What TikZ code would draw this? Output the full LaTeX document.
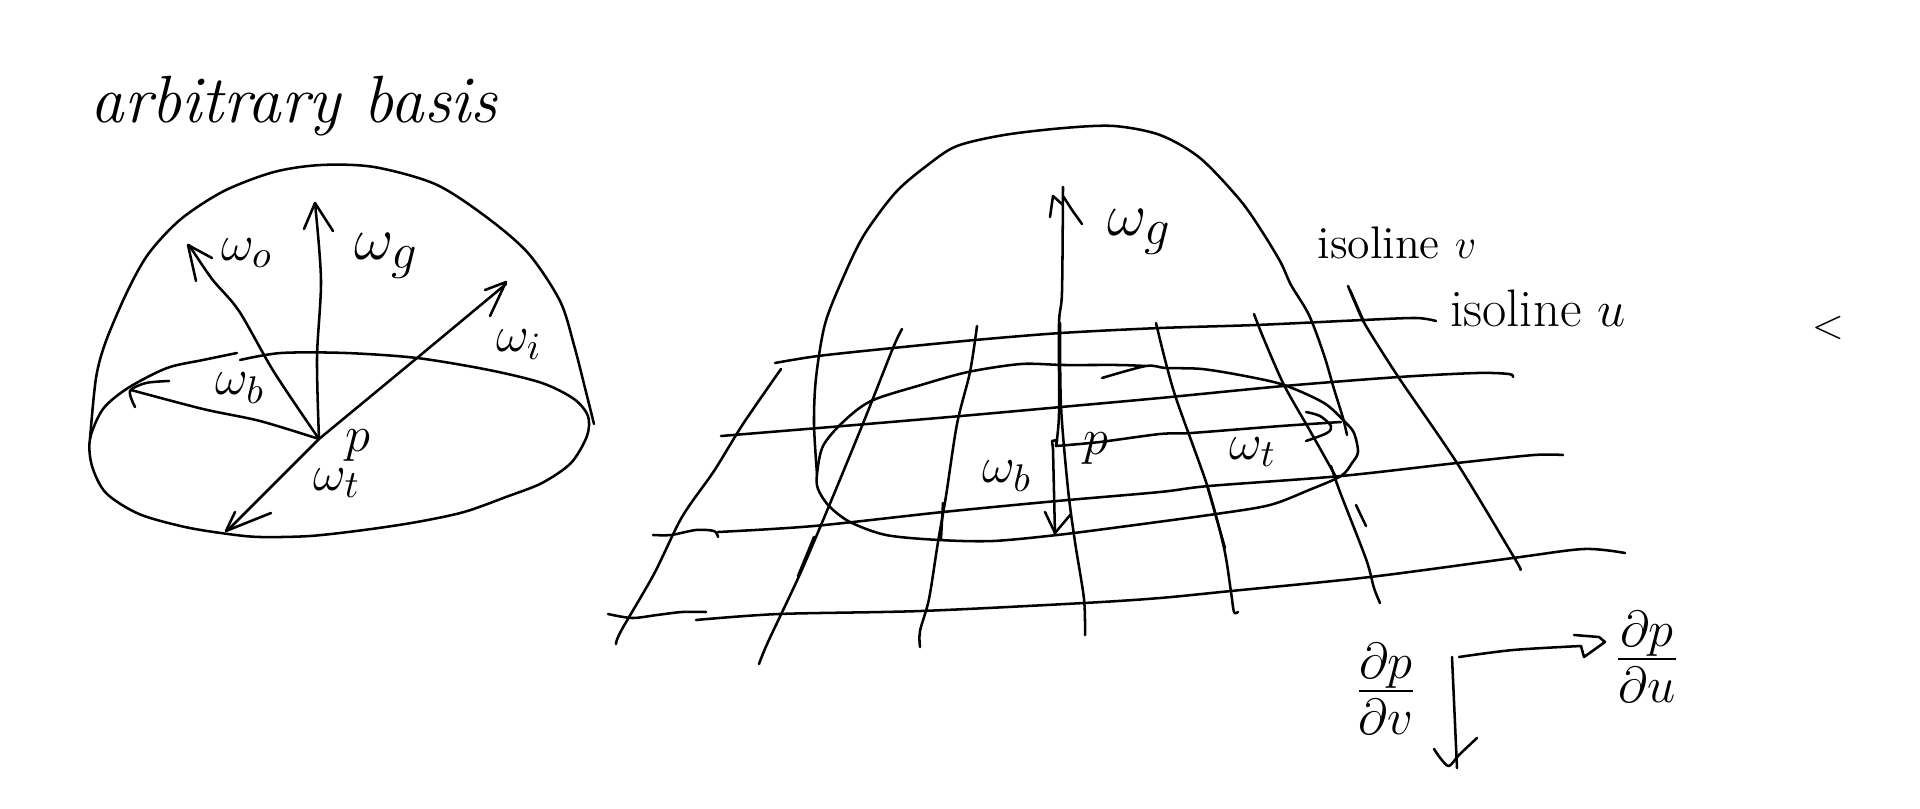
\documentclass[tikz,border=0pt]{standalone}
\usepackage{tikz}
\usetikzlibrary{calc, positioning}
\tikzset{
  pen/.style={black, line width=0.72pt, line join=round, line cap=round},
  handtext/.style={black, inner sep=0pt, font=\fontsize{13}{15}\selectfont},
  handbig/.style={handtext, font=\fontsize{19}{22}\selectfont},
  handsmall/.style={handtext, font=\fontsize{15}{17}\selectfont},
  handfrac/.style={handtext, font=\fontsize{20.74}{24}\selectfont},
}

\begin{document}
\begin{tikzpicture}[x=0.01cm, y=-0.01cm]
  \useasboundingbox (0,0) rectangle (1920,809);
  \coordinate (pleft) at (319,439);
  \coordinate (pright) at (1056,446);

  % left hemisphere
  \node[handbig, anchor=base west] (titlebasis) at (90,122) {\textit{arbitrary basis}};
  \draw[pen] plot[smooth] coordinates {(90,439) (96,378) (106,341) (128,290) (149,253) (181,219) (224,191) (274,172) (321,165) (374,167) (435,184) (485,216) (528,253) (560,301) (574,345) (585,388) (594,424)};
  \draw[pen] plot[smooth] coordinates {(237,353) (203,360) (167,368) (128,388) (103,409) (90,439) (92,466) (106,493) (139,514) (185,527) (228,534) (260,537) (310,536) (364,530) (417,522) (464,512) (506,497) (542,483) (571,463) (587,436) (588,416) (574,399) (542,383) (489,370) (417,358) (346,353) (281,353) (240,360)};

  \draw[pen] plot[smooth] coordinates {(pleft) (317,358) (321,280) (315,203)};
  \draw[pen] (304,229) -- (315,203) -- (333,231);
  \draw[pen] plot[smooth] coordinates {(pleft) (274,372) (239,311) (212,279) (189,245)};
  \draw[pen] (196,281) -- (188,245) -- (212,258);
  \draw[pen] plot[smooth] coordinates {(pleft) (417,358) (506,284)};
  \draw[pen] (490,316) -- (506,282) -- (485,290);
  \draw[pen] (pleft) -- (228,530);
  \draw[pen] (235,512) -- (226,531) -- (271,513);
  \draw[pen] plot[smooth] coordinates {(pleft) (260,421) (203,409) (131,390)};
  \draw[pen] plot[smooth] coordinates {(169,381) (146,383) (130,391) (135,407)};

  \node[handsmall] (wol) at (247,253) {$\omega_o$};
  \node[handbig] (wgl) at (387,256) {$\omega_g$};
  \node[handsmall] (wil) at (519,345) {$\omega_i$};
  \node[handsmall] (wbl) at (240,388) {$\omega_b$};
  \node[handsmall] (pl) at (358,446) {$p$};
  \node[handsmall] (wtl) at (337,483) {$\omega_t$};

  % right lobe and footprint
  \draw[pen] plot[smooth] coordinates {(817,474) (814,424) (816,378) (825,324) (843,278) (864,235) (896,192) (929,164) (957,146) (1004,135) (1064,128) (1114,126) (1160,135) (1200,158) (1240,200) (1263,233) (1281,263) (1291,285) (1309,315) (1324,355) (1334,389) (1343,418) (1347,435)};
  \draw[pen] plot[smooth] coordinates {(1102,378) (1146,366) (1166,368) (1202,369) (1245,376) (1284,385) (1324,403) (1345,422) (1354,433) (1358,452) (1352,463) (1341,476) (1309,490) (1270,505) (1216,514) (1120,527) (1057,535) (993,541) (939,540) (886,535) (850,522) (829,506) (818,489) (817,474) (823,446) (843,422) (871,401) (921,385) (968,372) (1021,364) (1064,365) (1118,365) (1146,366)};

  % isolines v
  \draw[pen] plot[smooth] coordinates {(775,363) (818,356) (893,348) (975,340) (1061,333) (1160,328) (1256,325) (1363,320) (1416,318) (1436,321)};
  \draw[pen] plot[smooth] coordinates {(721,436) (843,426) (961,416) (1061,407) (1160,398) (1284,386) (1399,377) (1477,373) (1509,374) (1513,377)};
  \draw[pen] plot[smooth] coordinates {(653,535) (671,535) (696,530) (714,531) (718,537)};
  \draw[pen] plot[smooth] coordinates {(718,532) (814,526) (943,512) (1057,501) (1160,492) (1209,486) (1341,476) (1457,463) (1534,455) (1563,455)};
  \draw[pen] plot[smooth] coordinates {(608,614) (632,618) (657,615) (682,612) (706,612)};
  \draw[pen] plot[smooth] coordinates {(696,620) (779,614) (921,611) (1084,603) (1160,598) (1231,591) (1370,577) (1513,558) (1584,549) (1625,553)};

  % isolines u
  \draw[pen] plot[smooth] coordinates {(781,369) (743,424) (714,471) (682,517) (654,574) (621,631) (616,644)};
  \draw[pen] plot[smooth] coordinates {(902,329) (893,348) (864,421) (829,506) (800,574) (768,642) (759,664)};
  \draw[pen] (814,537) -- (798,576);
  \draw[pen] plot[smooth] coordinates {(977,326) (970,372) (957,424) (946,496) (938,542) (929,599) (920,631) (920,647)};
  \draw[pen] (943,503) -- (941,539);
  \draw[pen] plot[smooth] coordinates {(1060,323) (1061,406) (1068,489) (1075,542) (1084,599) (1085,635)};
  \draw[pen] plot[smooth] coordinates {(1156,323) (1174,392) (1207,485) (1224,548) (1231,592) (1234,612) (1238,612)};
  \draw[pen] (1207,485) -- (1225,548);
  \draw[pen] plot[smooth] coordinates {(1254,314) (1263,337) (1284,385) (1309,429) (1336,477)};
  \draw[pen] plot[smooth] coordinates {(1331,466) (1340,492) (1366,559) (1374,588) (1380,603)};
  \draw[pen] (1356,505) -- (1366,526);
  \draw[pen] plot[smooth] coordinates {(1348,286) (1356,305) (1366,326) (1399,378) (1457,463) (1515,559) (1520,569)};
  \draw[pen] (1350,290) -- (1364,322);

  % vectors at p
  \draw[pen] plot[smooth] coordinates {(pright) (1059,414) (1059,324) (1062,292) (1063,187)};
  \draw[pen] (1050,217) -- (1053,196) -- (1063,205);
  \draw[pen] (1063,196) -- (1072,210) -- (1082,224);
  \draw[pen] (1052,441) -- (1057,440) -- (pright);
  \draw[pen] (1052,441) -- (1053,449) -- (1055,535);
  \draw[pen] (1045,512) -- (1055,533) -- (1071,514);
  \draw[pen] plot[smooth] coordinates {(pright) (1100,442) (1160,434) (1191,433) (1281,426) (1341,422)};
  \draw[pen] plot[smooth] coordinates {(1306,412) (1320,416) (1331,426) (1327,433) (1306,441)};

  \node[handbig] (wgr) at (1140,232) {$\omega_g$};
  \node[handsmall] (wbr) at (1007,476) {$\omega_b$};
  \node[handsmall] (pr) at (1096,449) {$p$};
  \node[handsmall] (wtr) at (1253,452) {$\omega_t$};
  \node[handtext] (isov) at (1397,243) {isoline $v$};
  \node[handsmall] (isou) at (1538,308) {isoline $u$};
  \node[handtext] (stray) at (1828,328) {$<$};

  % tangent axes
  \draw[pen] (1452,657) -- (1457,768);
  \draw[pen] plot[smooth] coordinates {(1434,749) (1441,759) (1449,766) (1459,755) (1477,738)};
  \draw[pen] plot[smooth] coordinates {(1459,657) (1513,650) (1581,646)};
  \draw[pen] (1574,635) -- (1599,637) -- (1605,642) -- (1584,657) -- (1581,646);
  \node[handfrac] (dpdv) at (1386,689) {$\frac{\partial p}{\partial v}$};
  \node[handfrac] (dpdu) at (1647,657) {$\frac{\partial p}{\partial u}$};
\end{tikzpicture}
\end{document}
